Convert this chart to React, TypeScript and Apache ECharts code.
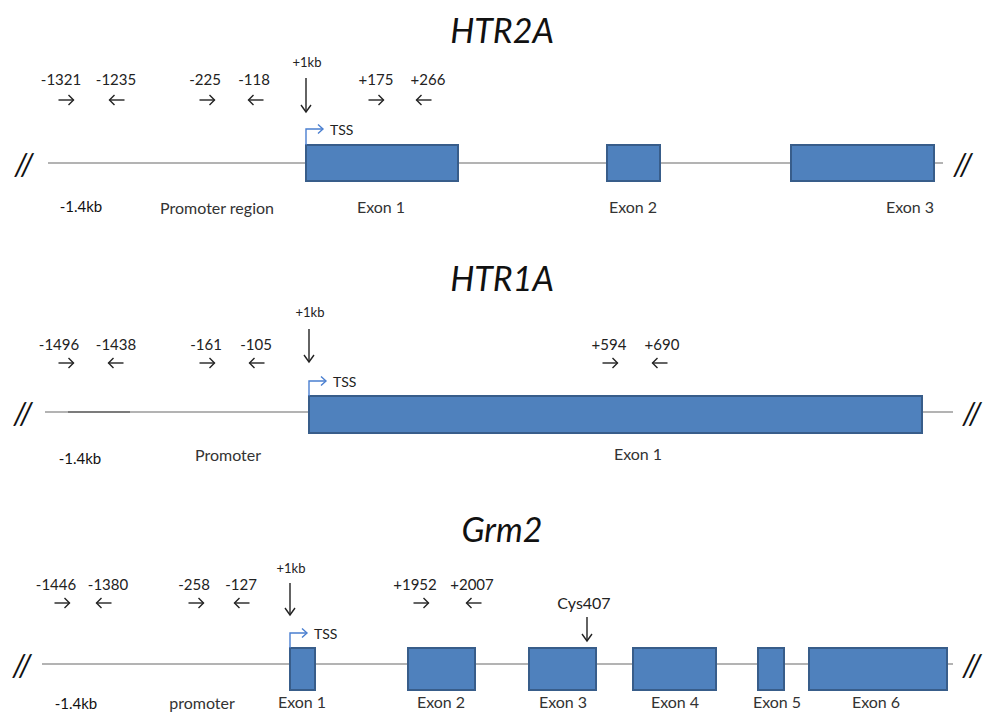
import React, { useEffect, useRef } from "react";
import * as echarts from "echarts";

// ---------------- data ----------------
const GENES = ["HTR2A", "HTR1A", "Grm2"];

// schematic backbone extents (schematic x units)
const BACKBONE_START = [48, 45, 42];
const BACKBONE_END = [943, 953, 953];
// darker segment on HTR1A backbone
const HTR1A_DARK_SEGMENT = [68, 130];

const HTR2A_EXON_START = [306, 607, 791];
const HTR2A_EXON_END = [458, 660, 934];
const HTR2A_EXON_NAMES = ["Exon 1", "Exon 2", "Exon 3"];
const HTR2A_EXON_LABEL_POS = [381, 633, 910];

const HTR1A_EXON_START = [309];
const HTR1A_EXON_END = [922];
const HTR1A_EXON_NAMES = ["Exon 1"];
const HTR1A_EXON_LABEL_POS = [638];

const GRM2_EXON_START = [290, 408, 529, 633, 758, 809];
const GRM2_EXON_END = [315, 475, 596, 716, 784, 947];
const GRM2_EXON_NAMES = ["Exon 1", "Exon 2", "Exon 3", "Exon 4", "Exon 5", "Exon 6"];
const GRM2_EXON_LABEL_POS = [302, 441, 563, 675, 777, 876];

const HTR2A_PRIMERS = ["-1321", "-1235", "-225", "-118", "+175", "+266"];
const HTR2A_PRIMER_LABEL_POS = [61, 116, 205, 254, 376, 428];
const HTR2A_PRIMER_ARROW_POS = [66, 117, 207, 256, 376, 424];

const HTR1A_PRIMERS = ["-1496", "-1438", "-161", "-105", "+594", "+690"];
const HTR1A_PRIMER_LABEL_POS = [59, 116, 206, 256, 609, 662];
const HTR1A_PRIMER_ARROW_POS = [66, 116, 207, 257, 610, 660];

const GRM2_PRIMERS = ["-1446", "-1380", "-258", "-127", "+1952", "+2007"];
const GRM2_PRIMER_LABEL_POS = [56, 108, 194, 241, 415, 472];
const GRM2_PRIMER_ARROW_POS = [62, 104, 196, 242, 421, 474];

const UPSTREAM_LABEL = "-1.4kb";
const UPSTREAM_LABEL_POS = [81, 80, 76];
const PROMOTER_LABELS = ["Promoter region", "Promoter", "promoter"];
const PROMOTER_LABEL_POS = [217, 228, 202];

const KB_LABEL = "+1kb";
const TSS_LABEL = "TSS";
const SITE_LABEL = "Cys407";
const SITE_POS = 587;
const SITE_LABEL_POS = 584;

const BREAK_LEFT_POS = [24, 23, 22];
const BREAK_RIGHT_POS = [963, 972, 972];

// ---------------- layout (vertical rows, in px units of the y axis) ----------------
const ROWS = [
  { title: 29, kbText: 62, kbTop: 78, kbBottom: 112, primerText: 79, primerArrow: 100, tss: 129, exonTop: 145, line: 163, exonBottom: 181, label: 206, upLabel: 206 },
  { title: 277, kbText: 312, kbTop: 329, kbBottom: 362, primerText: 344, primerArrow: 363, tss: 381, exonTop: 396, line: 412, exonBottom: 433, label: 453, upLabel: 458 },
  { title: 528, kbText: 568, kbTop: 583, kbBottom: 615, primerText: 584, primerArrow: 603, tss: 633, exonTop: 648, line: 664, exonBottom: 690, label: 701, upLabel: 703 },
];

const EXONS = [
  { start: HTR2A_EXON_START, end: HTR2A_EXON_END, names: HTR2A_EXON_NAMES, labelPos: HTR2A_EXON_LABEL_POS },
  { start: HTR1A_EXON_START, end: HTR1A_EXON_END, names: HTR1A_EXON_NAMES, labelPos: HTR1A_EXON_LABEL_POS },
  { start: GRM2_EXON_START, end: GRM2_EXON_END, names: GRM2_EXON_NAMES, labelPos: GRM2_EXON_LABEL_POS },
];
const PRIMERS = [
  { names: HTR2A_PRIMERS, labelPos: HTR2A_PRIMER_LABEL_POS, arrowPos: HTR2A_PRIMER_ARROW_POS },
  { names: HTR1A_PRIMERS, labelPos: HTR1A_PRIMER_LABEL_POS, arrowPos: HTR1A_PRIMER_ARROW_POS },
  { names: GRM2_PRIMERS, labelPos: GRM2_PRIMER_LABEL_POS, arrowPos: GRM2_PRIMER_ARROW_POS },
];

const FONT = "Lato, 'Open Sans', sans-serif";
const TEXT_STYLES: Record<string, any> = {
  title: { font: `italic 34px ${FONT}`, fill: "#111", align: "center" },
  primer: { font: `15px ${FONT}`, fill: "#222", align: "center" },
  kb: { font: `13px ${FONT}`, fill: "#222", align: "center" },
  tss: { font: `14px ${FONT}`, fill: "#222", align: "left" },
  region: { font: `16px ${FONT}`, fill: "#333", align: "center" },
  up: { font: `15px ${FONT}`, fill: "#111", align: "center" },
  exon: { font: `16px ${FONT}`, fill: "#333", align: "center" },
  site: { font: `16px ${FONT}`, fill: "#222", align: "center" },
  brk: { font: `italic 30px ${FONT}`, fill: "#111", align: "center" },
};

type TextItem = { x: number; y: number; text: string; kind: string };
type ArrowItem = { x: number; y: number; dir: "right" | "left" | "down"; len: number };

function buildTexts(): TextItem[] {
  const t: TextItem[] = [];
  GENES.forEach((g, i) => {
    const r = ROWS[i];
    t.push({ x: 502, y: r.title, text: g, kind: "title" });
    const e = EXONS[i];
    const p = PRIMERS[i];
    p.names.forEach((n, j) => t.push({ x: p.labelPos[j], y: r.primerText, text: n, kind: "primer" }));
    t.push({ x: e.start[0] + 1, y: r.kbText, text: KB_LABEL, kind: "kb" });
    t.push({ x: e.start[0] + 24, y: r.tss, text: TSS_LABEL, kind: "tss" });
    e.names.forEach((n, j) => t.push({ x: e.labelPos[j], y: r.label, text: n, kind: "exon" }));
    t.push({ x: UPSTREAM_LABEL_POS[i], y: r.upLabel, text: UPSTREAM_LABEL, kind: "up" });
    t.push({ x: PROMOTER_LABEL_POS[i], y: r.label + 1, text: PROMOTER_LABELS[i], kind: "region" });
    t.push({ x: BREAK_LEFT_POS[i], y: r.line, text: "//", kind: "brk" });
    t.push({ x: BREAK_RIGHT_POS[i], y: r.line, text: "//", kind: "brk" });
  });
  t.push({ x: SITE_LABEL_POS, y: 602, text: SITE_LABEL, kind: "site" });
  return t;
}

function buildArrows(): ArrowItem[] {
  const a: ArrowItem[] = [];
  GENES.forEach((_, i) => {
    const r = ROWS[i];
    const p = PRIMERS[i];
    p.arrowPos.forEach((x, j) => a.push({ x, y: r.primerArrow, dir: j % 2 === 0 ? "right" : "left", len: 15 }));
    const x0 = EXONS[i].start[0];
    a.push({ x: x0, y: (r.kbTop + r.kbBottom) / 2, dir: "down", len: r.kbBottom - r.kbTop });
  });
  a.push({ x: SITE_POS, y: 629, dir: "down", len: 24 });
  return a;
}

export default function App() {
  const ref = useRef<HTMLDivElement>(null);
  useEffect(() => {
    if (!ref.current) return;
    const chart = echarts.init(ref.current, null, { renderer: "svg" });
    const texts = buildTexts();
    const arrows = buildArrows();

    const backbones: number[][] = GENES.map((_, i) => [BACKBONE_START[i], BACKBONE_END[i], i, 0]);
    backbones.push([HTR1A_DARK_SEGMENT[0], HTR1A_DARK_SEGMENT[1], 1, 1]);

    const exonData: number[][] = [];
    EXONS.forEach((e, i) => e.start.forEach((s, j) => exonData.push([s, e.end[j], i])));

    const tssData = GENES.map((_, i) => [EXONS[i].start[0], i]);

    const option: any = {
      animation: false,
      backgroundColor: "#ffffff",
      grid: { left: 0, right: 0, top: 0, bottom: 0 },
      xAxis: { type: "value", min: 0, max: 987, show: false },
      yAxis: { type: "value", min: 0, max: 713, inverse: true, show: false },
      series: [
        {
          type: "custom",
          name: "backbone",
          clip: false,
          data: backbones,
          renderItem: (params: any, api: any) => {
            const d = backbones[params.dataIndex];
            const y = ROWS[d[2]].line;
            const a = api.coord([d[0], y]);
            const b = api.coord([d[1], y]);
            return {
              type: "line",
              shape: { x1: a[0], y1: a[1], x2: b[0], y2: b[1] },
              style: { stroke: d[3] ? "#6a6a6a" : "#9a9a9a", lineWidth: 1.5 },
            };
          },
        },
        {
          type: "custom",
          name: "exons",
          clip: false,
          data: exonData,
          renderItem: (params: any, api: any) => {
            const d = exonData[params.dataIndex];
            const r = ROWS[d[2]];
            const a = api.coord([d[0], r.exonTop]);
            const b = api.coord([d[1], r.exonBottom]);
            return {
              type: "rect",
              shape: { x: a[0], y: a[1], width: b[0] - a[0], height: b[1] - a[1] },
              style: { fill: "#4f81bd", stroke: "#385d8a", lineWidth: 2 },
            };
          },
        },
        {
          type: "custom",
          name: "tss",
          clip: false,
          data: tssData,
          renderItem: (params: any, api: any) => {
            const d = tssData[params.dataIndex];
            const r = ROWS[d[1]];
            const a = api.coord([d[0], r.exonTop]);
            const b = api.coord([d[0], r.tss]);
            const tip = b[0] + 17;
            const style = { stroke: "#4a7fd0", lineWidth: 1.4, fill: null };
            return {
              type: "group",
              children: [
                { type: "polyline", shape: { points: [[a[0], a[1]], [b[0], b[1]], [tip, b[1]]] }, style },
                { type: "polyline", shape: { points: [[tip - 5, b[1] - 4.5], [tip, b[1]], [tip - 5, b[1] + 4.5]] }, style },
              ],
            };
          },
        },
        {
          type: "custom",
          name: "arrows",
          clip: false,
          data: arrows.map((a) => [a.x, a.y]),
          renderItem: (params: any, api: any) => {
            const d = arrows[params.dataIndex];
            const c = api.coord([d.x, d.y]);
            const h = d.len / 2;
            const style = { stroke: "#222", lineWidth: 1.4, fill: null };
            let shaft: number[][];
            let head: number[][];
            if (d.dir === "right") {
              shaft = [[c[0] - h, c[1]], [c[0] + h, c[1]]];
              head = [[c[0] + h - 5, c[1] - 5], [c[0] + h, c[1]], [c[0] + h - 5, c[1] + 5]];
            } else if (d.dir === "left") {
              shaft = [[c[0] + h, c[1]], [c[0] - h, c[1]]];
              head = [[c[0] - h + 5, c[1] - 5], [c[0] - h, c[1]], [c[0] - h + 5, c[1] + 5]];
            } else {
              shaft = [[c[0], c[1] - h], [c[0], c[1] + h]];
              head = [[c[0] - 5, c[1] + h - 7], [c[0], c[1] + h], [c[0] + 5, c[1] + h - 7]];
            }
            return {
              type: "group",
              children: [
                { type: "polyline", shape: { points: shaft }, style },
                { type: "polyline", shape: { points: head }, style },
              ],
            };
          },
        },
        {
          type: "custom",
          name: "texts",
          clip: false,
          data: texts.map((t) => [t.x, t.y]),
          renderItem: (params: any, api: any) => {
            const t = texts[params.dataIndex];
            const c = api.coord([t.x, t.y]);
            const s = TEXT_STYLES[t.kind];
            return {
              type: "text",
              x: c[0],
              y: c[1],
              style: { text: t.text, font: s.font, fill: s.fill, align: s.align, verticalAlign: "middle" },
            };
          },
        },
      ],
    };
    chart.setOption(option);
    return () => chart.dispose();
  }, []);
  return (
    <div
      ref={ref}
      style={{ position: "fixed", left: 0, top: 0, width: 987, height: 713, background: "#fff" }}
    />
  );
}
